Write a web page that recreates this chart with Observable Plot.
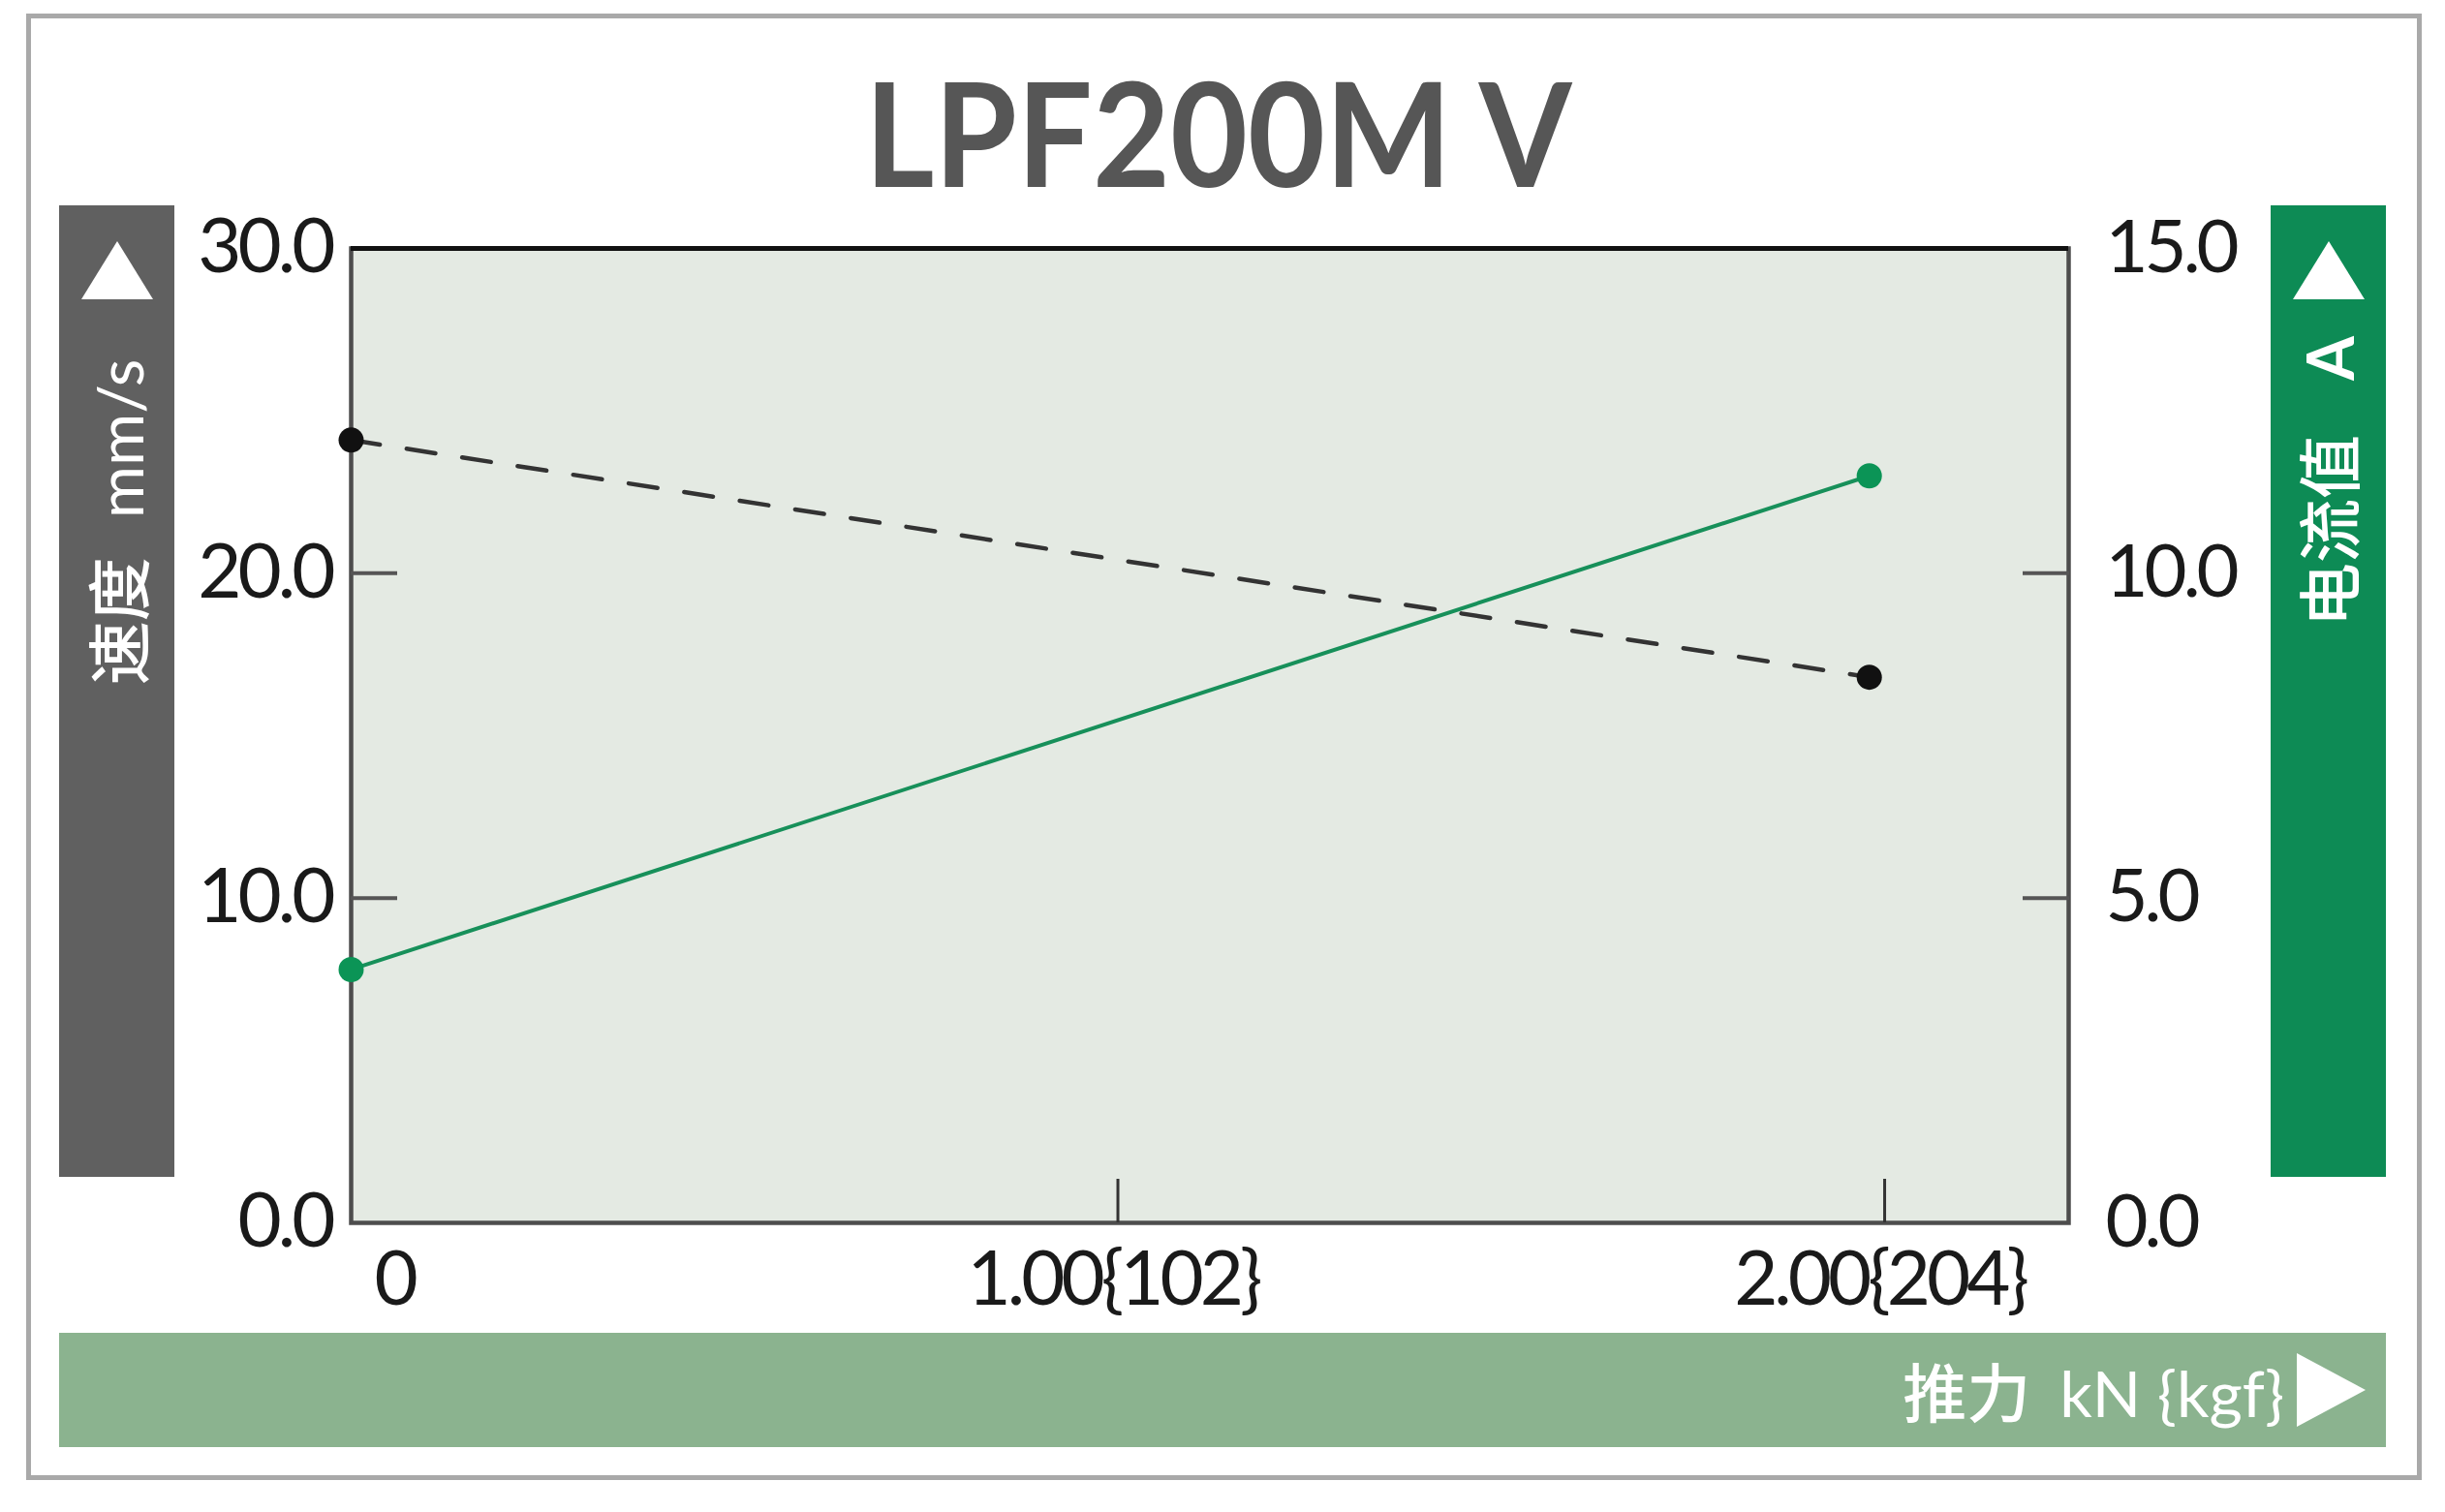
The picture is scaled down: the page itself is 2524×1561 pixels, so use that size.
<!DOCTYPE html>
<html>
<head>
<meta charset="utf-8">
<script src="https://cdn.jsdelivr.net/npm/d3@7"></script>
<script src="https://cdn.jsdelivr.net/npm/@observablehq/plot@0.6"></script>
<style>
  body { margin: 0; background: #fff; }
  #wrap { position: relative; width: 2524px; height: 1561px; overflow: hidden; background: #fff; font-family: Lato, "Noto Sans CJK SC", sans-serif; }
  .abs { position: absolute; }
  #chart { position: absolute; left: 0; top: 200px; z-index: 1; }
  .bar { position: absolute; z-index: 2; }
  .tri { position: absolute; z-index: 3; width: 0; height: 0; }
  .vtext { position: absolute; z-index: 3; color: #fff; white-space: nowrap; transform: translate(-50%, -50%) rotate(-90deg); font-size: 66px; line-height: 1; }
  .cjk { font-family: "Noto Sans CJK SC", sans-serif; font-weight: 500; }
  .lat { font-family: Lato, sans-serif; font-weight: 700; }
</style>
</head>
<body>
<div id="wrap">
  <div class="abs" style="left:27px;top:14px;width:2473px;height:1514px;border:5px solid #a9a9a9;box-sizing:border-box;"></div>
  <div class="abs" style="left:0;width:2524px;top:60px;text-align:center;">
    <div id="title" style="display:inline-block;transform:scaleX(0.92);transform-origin:50% 50%;font:700 150px/150px Lato, sans-serif;color:#565656;margin-left:-8px;"></div>
  </div>
  <div id="chart"></div>

  <div class="bar" style="left:61px;top:212px;width:119px;height:1003px;background:#606060;"></div>
  <div class="tri" style="left:84px;top:249px;border-left:37px solid transparent;border-right:37px solid transparent;border-bottom:60px solid #fff;"></div>
  <div id="speedLabel" class="vtext" style="left:121px;top:539px;"></div>

  <div class="bar" style="left:2344px;top:212px;width:119px;height:1003px;background:#0d8b55;"></div>
  <div class="tri" style="left:2367px;top:249px;border-left:37px solid transparent;border-right:37px solid transparent;border-bottom:60px solid #fff;"></div>
  <div id="currentLabel" class="vtext" style="left:2403px;top:497px;"></div>

  <div class="bar" style="left:61px;top:1376px;width:2402px;height:118px;background:#8bb38f;"></div>
  <div id="thrustLabel" class="abs" style="z-index:3;right:166px;top:1436px;transform:translateY(-50%);color:#fff;font-size:66px;line-height:1;white-space:nowrap;"></div>
  <div class="tri" style="left:2371px;top:1397px;border-top:38px solid transparent;border-bottom:38px solid transparent;border-left:71px solid #fff;"></div>
</div>
<script>
// ---- data ----
const title = "LPF200M V";
const thrust = [0, 1.98];            // kN
const speed = [24.1, 16.8];          // mm/s
const current = [3.9, 11.5];         // A
const speedTicks = [0, 10, 20, 30];
const currentTicks = [0, 5, 10, 15];
const thrustTicks = [0, 1, 2];
const thrustTickLabels = ["0", "1.00{102}", "2.00{204}"];
const thrustDomain = [0, 2.24];
const speedLabelParts = ["速度", "mm/s"];
const currentLabelParts = ["电流值", "A"];
const thrustLabelParts = ["推力", "kN {kgf}"];

// ---- html labels ----
document.getElementById("title").textContent = title;
document.getElementById("speedLabel").innerHTML =
  `<span class="cjk">${speedLabelParts[0]}</span><span class="lat" style="margin-left:40px;font-weight:400">${speedLabelParts[1]}</span>`;
document.getElementById("currentLabel").innerHTML =
  `<span class="cjk">${currentLabelParts[0]}</span><span class="lat" style="margin-left:56px">${currentLabelParts[1]}</span>`;
document.getElementById("thrustLabel").innerHTML =
  `<span class="cjk">${thrustLabelParts[0]}</span><span class="lat" style="margin-left:30px;font-weight:400">${thrustLabelParts[1]}</span>`;

// ---- chart ----
const speedMax = d3.max(speedTicks);
const currentMax = d3.max(currentTicks);
const k = speedMax / currentMax; // map current onto the speed scale
const rows = thrust.map((t, i) => ({thrust: t, speed: speed[i], current: current[i]}));
const innerSpeedTicks = speedTicks.filter(t => t > 0 && t < speedMax);
const innerCurrentTicks = currentTicks.filter(t => t > 0 && t < currentMax).map(t => t * k);
const innerThrustTicks = thrustTicks.filter(t => t > 0);

const chart = Plot.plot({
  width: 2524,
  height: 1200,
  marginTop: 56,
  marginBottom: 138,
  marginLeft: 362,
  marginRight: 389,
  style: {background: "transparent", fontFamily: "Lato, sans-serif", letterSpacing: "-4px", color: "#1a1a1a"},
  x: {domain: thrustDomain, axis: null},
  y: {domain: [0, speedMax], axis: null},
  marks: [
    Plot.frame({fill: "#e4eae3", stroke: "#4d4d4d", strokeWidth: 4.5}),
    Plot.ruleY([speedMax], {stroke: "#111", strokeWidth: 5}),
    Plot.axisY(innerSpeedTicks, {anchor: "left", tickSize: 48, dx: 48, fill: "none", label: null, stroke: "#555", strokeWidth: 4}),
    Plot.axisY(innerCurrentTicks, {anchor: "right", tickSize: 48, dx: -48, fill: "none", label: null, stroke: "#555", strokeWidth: 4}),
    Plot.axisX(innerThrustTicks, {anchor: "bottom", tickSize: 45, dy: -45, fill: "none", label: null, stroke: "#333", strokeWidth: 3}),
    Plot.line(rows, {x: "thrust", y: "speed", stroke: "#333", strokeWidth: 4.5, strokeDasharray: "30,28"}),
    Plot.line(rows, {x: "thrust", y: d => d.current * k, stroke: "#17905a", strokeWidth: 4}),
    Plot.dot(rows, {x: "thrust", y: "speed", r: 13, fill: "#111"}),
    Plot.dot(rows, {x: "thrust", y: d => d.current * k, r: 13, fill: "#0b9456"}),
    Plot.text(speedTicks, {y: d => d, frameAnchor: "left", textAnchor: "end", dx: -20, text: d => d.toFixed(1), fontSize: 78, fill: "#1a1a1a"}),
    Plot.text(currentTicks, {y: d => d * k, frameAnchor: "right", textAnchor: "start", dx: 38, text: d => d.toFixed(1), fontSize: 76, fill: "#1a1a1a"}),
    Plot.text(thrustTicks.slice(0, 1), {x: d => d, frameAnchor: "bottom", textAnchor: "start", dx: 24, dy: 84, text: thrustTickLabels.slice(0, 1), fontSize: 78, fill: "#1a1a1a"}),
    Plot.text(thrustTicks.slice(1), {x: d => d, frameAnchor: "bottom", dx: -5, dy: 84, text: thrustTickLabels.slice(1), fontSize: 78, fill: "#1a1a1a"})
  ]
});
document.getElementById("chart").appendChild(chart);
</script>
</body>
</html>
